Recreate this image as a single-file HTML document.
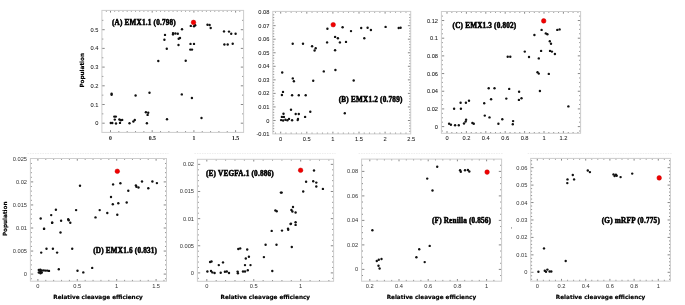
<!DOCTYPE html>
<html><head><meta charset="utf-8"><style>
html,body{margin:0;padding:0;background:#fff;width:685px;height:305px;overflow:hidden}
svg{display:block}
.tl{font-family:'Liberation Sans',sans-serif;font-size:5.7px;fill:#1a1a1a;stroke:#1a1a1a;stroke-width:0.05px}
.ti{font-family:'Liberation Serif',serif;font-weight:bold;font-size:7.2px;fill:#000;stroke:#000;stroke-width:0.5px}
.al{font-family:'DejaVu Sans',sans-serif;font-weight:bold;font-size:5.7px;fill:#000;stroke:#000;stroke-width:0.18px}
circle{fill:#111}
.lt{fill:#333;stroke:none}
circle.r{fill:#f20000;stroke:#c40000;stroke-width:0.5px}
</style></head><body>
<svg width="685" height="305" viewBox="0 0 685 305">
<g><path d="M110.5 132.4v-2.2M118.84 132.4v-1.3M127.18 132.4v-1.3M135.52 132.4v-1.3M143.86 132.4v-1.3M152.2 132.4v-2.2M160.54 132.4v-1.3M168.88 132.4v-1.3M177.22 132.4v-1.3M185.56 132.4v-1.3M193.9 132.4v-2.2M202.24 132.4v-1.3M210.58 132.4v-1.3M218.92 132.4v-1.3M227.26 132.4v-1.3M235.6 132.4v-2.2M106.33 10.4v1.3M110.5 10.4v2.2M114.67 10.4v1.3M118.84 10.4v1.3M123.01 10.4v1.3M127.18 10.4v1.3M131.35 10.4v1.3M135.52 10.4v1.3M139.69 10.4v1.3M143.86 10.4v1.3M148.03 10.4v1.3M152.2 10.4v2.2M156.37 10.4v1.3M160.54 10.4v1.3M164.71 10.4v1.3M168.88 10.4v1.3M173.05 10.4v1.3M177.22 10.4v1.3M181.39 10.4v1.3M185.56 10.4v1.3M189.73 10.4v1.3M193.9 10.4v2.2M198.07 10.4v1.3M202.24 10.4v1.3M206.41 10.4v1.3M210.58 10.4v1.3M214.75 10.4v1.3M218.92 10.4v1.3M223.09 10.4v1.3M227.26 10.4v1.3M231.43 10.4v1.3M235.6 10.4v2.2M239.77 10.4v1.3M101.9 123.2h2.8M243.6 123.2h-2.8M101.9 113.85h1.4M243.6 113.85h-1.4M101.9 104.5h2.8M243.6 104.5h-2.8M101.9 95.15h1.4M243.6 95.15h-1.4M101.9 85.8h2.8M243.6 85.8h-2.8M101.9 76.45h1.4M243.6 76.45h-1.4M101.9 67.1h2.8M243.6 67.1h-2.8M101.9 57.75h1.4M243.6 57.75h-1.4M101.9 48.4h2.8M243.6 48.4h-2.8M101.9 39.05h1.4M243.6 39.05h-1.4M101.9 29.7h2.8M243.6 29.7h-2.8M101.9 20.35h1.4M243.6 20.35h-1.4" stroke="#555" stroke-width="0.7" fill="none"/>
<rect x="101.9" y="10.4" width="141.7" height="122" fill="none" stroke="#cdcdcd" stroke-width="1"/>
<text x="110.5" y="139.8" text-anchor="middle" class="tl" style="font-family:'Liberation Serif',serif;font-weight:bold">0</text>
<text x="152.2" y="139.8" text-anchor="middle" class="tl" style="font-family:'Liberation Serif',serif;font-weight:bold">0.5</text>
<text x="193.9" y="139.8" text-anchor="middle" class="tl" style="font-family:'Liberation Serif',serif;font-weight:bold">1</text>
<text x="235.6" y="139.8" text-anchor="middle" class="tl" style="font-family:'Liberation Serif',serif;font-weight:bold">1.5</text>
<text x="98.5" y="125.2" text-anchor="end" class="tl">0</text>
<text x="98.5" y="106.5" text-anchor="end" class="tl">0.1</text>
<text x="98.5" y="87.8" text-anchor="end" class="tl">0.2</text>
<text x="98.5" y="69.1" text-anchor="end" class="tl">0.3</text>
<text x="98.5" y="50.4" text-anchor="end" class="tl">0.4</text>
<text x="98.5" y="31.7" text-anchor="end" class="tl">0.5</text>
<text x="112" y="24.5" class="ti" textLength="63.7" lengthAdjust="spacing">(A) EMX1.1 (0.798)</text>
<text transform="translate(83.7 70.3) rotate(-90)" text-anchor="middle" class="al">Population</text>
<circle cx="190.8" cy="25.9" r="1.2"/>
<circle cx="194" cy="26.3" r="1.2"/>
<circle cx="195.2" cy="25.2" r="1.2"/>
<circle cx="207.5" cy="24.8" r="1.2"/>
<circle cx="209.6" cy="25" r="1.2"/>
<circle cx="210.7" cy="28" r="1.2"/>
<circle cx="182" cy="29.2" r="1.2"/>
<circle cx="165" cy="34.9" r="1.2"/>
<circle cx="164.4" cy="39.7" r="1.2"/>
<circle cx="173" cy="33.1" r="1.2"/>
<circle cx="173" cy="34.4" r="1.2"/>
<circle cx="175.4" cy="33.5" r="1.2"/>
<circle cx="177.8" cy="33.8" r="1.2"/>
<circle cx="180" cy="38" r="1.2"/>
<circle cx="178.7" cy="38.8" r="1.2"/>
<circle cx="178.5" cy="45" r="1.2"/>
<circle cx="166.8" cy="48.7" r="1.2"/>
<circle cx="190.5" cy="43.9" r="1.2"/>
<circle cx="194" cy="43.9" r="1.2"/>
<circle cx="190.3" cy="49.6" r="1.2"/>
<circle cx="192" cy="49.6" r="1.2"/>
<circle cx="158.3" cy="61" r="1.2"/>
<circle cx="185.7" cy="60.8" r="1.2"/>
<circle cx="224" cy="31.4" r="1.2"/>
<circle cx="229" cy="31.6" r="1.2"/>
<circle cx="231.2" cy="33.8" r="1.2"/>
<circle cx="235.6" cy="33.8" r="1.2"/>
<circle cx="224.4" cy="44.5" r="1.2"/>
<circle cx="227.7" cy="44.5" r="1.2"/>
<circle cx="232.7" cy="43.7" r="1.2"/>
<circle cx="111.6" cy="93.8" r="1.2"/>
<circle cx="111.6" cy="94.7" r="1.2"/>
<circle cx="135.6" cy="95.5" r="1.2"/>
<circle cx="149.5" cy="92.7" r="1.2"/>
<circle cx="181.8" cy="94.4" r="1.2"/>
<circle cx="191.9" cy="98" r="1.2"/>
<circle cx="201.5" cy="118" r="1.2"/>
<circle cx="167" cy="119.2" r="1.2"/>
<circle cx="110.8" cy="123" r="1.2"/>
<circle cx="112.3" cy="123" r="1.2"/>
<circle cx="116" cy="123.5" r="1.2"/>
<circle cx="114.3" cy="116.6" r="1.2"/>
<circle cx="115.8" cy="116.6" r="1.2"/>
<circle cx="114.8" cy="119.6" r="1.2"/>
<circle cx="119.4" cy="119.5" r="1.2"/>
<circle cx="120.8" cy="120.3" r="1.2"/>
<circle cx="122.2" cy="119.9" r="1.2"/>
<circle cx="120" cy="122.9" r="1.2"/>
<circle cx="129.5" cy="123.2" r="1.2"/>
<circle cx="133.4" cy="121.5" r="1.2"/>
<circle cx="134.8" cy="120" r="1.2"/>
<circle cx="145.9" cy="112.2" r="1.2"/>
<circle cx="148.2" cy="112.7" r="1.2"/>
<circle cx="147.6" cy="114.9" r="1.2"/>
<circle cx="146.9" cy="123.2" r="1.2"/>
<circle cx="193.5" cy="22.4" r="2.3" class="r"/></g>
<g><path d="M275.48 133.9v-1.3M280.7 133.9v-2.2M285.92 133.9v-1.3M291.14 133.9v-1.3M296.36 133.9v-1.3M301.58 133.9v-1.3M306.8 133.9v-2.2M312.02 133.9v-1.3M317.24 133.9v-1.3M322.46 133.9v-1.3M327.68 133.9v-1.3M332.9 133.9v-2.2M338.12 133.9v-1.3M343.34 133.9v-1.3M348.56 133.9v-1.3M353.78 133.9v-1.3M359 133.9v-2.2M364.22 133.9v-1.3M369.44 133.9v-1.3M374.66 133.9v-1.3M379.88 133.9v-1.3M385.1 133.9v-2.2M390.32 133.9v-1.3M395.54 133.9v-1.3M400.76 133.9v-1.3M405.98 133.9v-1.3M275.48 11.4v1.3M280.7 11.4v2.2M285.92 11.4v1.3M291.14 11.4v1.3M296.36 11.4v1.3M301.58 11.4v1.3M306.8 11.4v2.2M312.02 11.4v1.3M317.24 11.4v1.3M322.46 11.4v1.3M327.68 11.4v1.3M332.9 11.4v2.2M338.12 11.4v1.3M343.34 11.4v1.3M348.56 11.4v1.3M353.78 11.4v1.3M359 11.4v2.2M364.22 11.4v1.3M369.44 11.4v1.3M374.66 11.4v1.3M379.88 11.4v1.3M385.1 11.4v2.2M390.32 11.4v1.3M395.54 11.4v1.3M400.76 11.4v1.3M405.98 11.4v1.3M272.8 131.34h1.4M410.7 131.34h-1.4M272.8 128.63h1.4M410.7 128.63h-1.4M272.8 125.92h1.4M410.7 125.92h-1.4M272.8 123.21h1.4M410.7 123.21h-1.4M272.8 120.5h2.8M410.7 120.5h-2.8M272.8 117.79h1.4M410.7 117.79h-1.4M272.8 115.08h1.4M410.7 115.08h-1.4M272.8 112.37h1.4M410.7 112.37h-1.4M272.8 109.66h1.4M410.7 109.66h-1.4M272.8 106.95h2.8M410.7 106.95h-2.8M272.8 104.24h1.4M410.7 104.24h-1.4M272.8 101.53h1.4M410.7 101.53h-1.4M272.8 98.82h1.4M410.7 98.82h-1.4M272.8 96.11h1.4M410.7 96.11h-1.4M272.8 93.4h2.8M410.7 93.4h-2.8M272.8 90.69h1.4M410.7 90.69h-1.4M272.8 87.98h1.4M410.7 87.98h-1.4M272.8 85.27h1.4M410.7 85.27h-1.4M272.8 82.56h1.4M410.7 82.56h-1.4M272.8 79.85h2.8M410.7 79.85h-2.8M272.8 77.14h1.4M410.7 77.14h-1.4M272.8 74.43h1.4M410.7 74.43h-1.4M272.8 71.72h1.4M410.7 71.72h-1.4M272.8 69.01h1.4M410.7 69.01h-1.4M272.8 66.3h2.8M410.7 66.3h-2.8M272.8 63.59h1.4M410.7 63.59h-1.4M272.8 60.88h1.4M410.7 60.88h-1.4M272.8 58.17h1.4M410.7 58.17h-1.4M272.8 55.46h1.4M410.7 55.46h-1.4M272.8 52.75h2.8M410.7 52.75h-2.8M272.8 50.04h1.4M410.7 50.04h-1.4M272.8 47.33h1.4M410.7 47.33h-1.4M272.8 44.62h1.4M410.7 44.62h-1.4M272.8 41.91h1.4M410.7 41.91h-1.4M272.8 39.2h2.8M410.7 39.2h-2.8M272.8 36.49h1.4M410.7 36.49h-1.4M272.8 33.78h1.4M410.7 33.78h-1.4M272.8 31.07h1.4M410.7 31.07h-1.4M272.8 28.36h1.4M410.7 28.36h-1.4M272.8 25.65h2.8M410.7 25.65h-2.8M272.8 22.94h1.4M410.7 22.94h-1.4M272.8 20.23h1.4M410.7 20.23h-1.4M272.8 17.52h1.4M410.7 17.52h-1.4M272.8 14.81h1.4M410.7 14.81h-1.4" stroke="#555" stroke-width="0.7" fill="none"/>
<rect x="272.8" y="11.4" width="137.9" height="122.5" fill="none" stroke="#cdcdcd" stroke-width="1"/>
<text x="280.7" y="140.7" text-anchor="middle" class="tl" style="font-family:'Liberation Sans',sans-serif">0</text>
<text x="306.8" y="140.7" text-anchor="middle" class="tl" style="font-family:'Liberation Sans',sans-serif">0.5</text>
<text x="332.9" y="140.7" text-anchor="middle" class="tl" style="font-family:'Liberation Sans',sans-serif">1</text>
<text x="359" y="140.7" text-anchor="middle" class="tl" style="font-family:'Liberation Sans',sans-serif">1.5</text>
<text x="385.1" y="140.7" text-anchor="middle" class="tl" style="font-family:'Liberation Sans',sans-serif">2</text>
<text x="411.2" y="140.7" text-anchor="middle" class="tl" style="font-family:'Liberation Sans',sans-serif">2.5</text>
<text x="269.4" y="136.05" text-anchor="end" class="tl">-0.01</text>
<text x="269.4" y="122.5" text-anchor="end" class="tl">0</text>
<text x="269.4" y="108.95" text-anchor="end" class="tl">0.01</text>
<text x="269.4" y="95.4" text-anchor="end" class="tl">0.02</text>
<text x="269.4" y="81.85" text-anchor="end" class="tl">0.03</text>
<text x="269.4" y="68.3" text-anchor="end" class="tl">0.04</text>
<text x="269.4" y="54.75" text-anchor="end" class="tl">0.05</text>
<text x="269.4" y="41.2" text-anchor="end" class="tl">0.06</text>
<text x="269.4" y="27.65" text-anchor="end" class="tl">0.07</text>
<text x="269.4" y="14.1" text-anchor="end" class="tl">0.08</text>
<text x="338.7" y="102.1" class="ti" textLength="63.7" lengthAdjust="spacing">(B) EMX1.2 (0.789)</text>
<circle cx="327.4" cy="28.8" r="1.2"/>
<circle cx="342.6" cy="27.2" r="1.2"/>
<circle cx="351" cy="31.1" r="1.2"/>
<circle cx="361.2" cy="28" r="1.2"/>
<circle cx="367.6" cy="27.7" r="1.2"/>
<circle cx="370.9" cy="30" r="1.2"/>
<circle cx="385.6" cy="26.9" r="1.2"/>
<circle cx="398.7" cy="28" r="1.2"/>
<circle cx="400.6" cy="27.7" r="1.2"/>
<circle cx="292.7" cy="43.8" r="1.2"/>
<circle cx="303" cy="43.8" r="1.2"/>
<circle cx="312.1" cy="46.3" r="1.2"/>
<circle cx="315.7" cy="48.3" r="1.2"/>
<circle cx="314.6" cy="50.5" r="1.2"/>
<circle cx="327.1" cy="42.4" r="1.2"/>
<circle cx="335.1" cy="36.9" r="1.2"/>
<circle cx="337.9" cy="38.3" r="1.2"/>
<circle cx="339.9" cy="42.4" r="1.2"/>
<circle cx="346" cy="41.9" r="1.2"/>
<circle cx="335.1" cy="50.2" r="1.2"/>
<circle cx="364.3" cy="38.3" r="1.2"/>
<circle cx="282.2" cy="72.5" r="1.2"/>
<circle cx="323.8" cy="71.4" r="1.2"/>
<circle cx="335.4" cy="70" r="1.2"/>
<circle cx="292.8" cy="78.4" r="1.2"/>
<circle cx="293.9" cy="81.3" r="1.2"/>
<circle cx="313.2" cy="80.8" r="1.2"/>
<circle cx="353.7" cy="80.5" r="1.2"/>
<circle cx="283" cy="91.9" r="1.2"/>
<circle cx="281.9" cy="95" r="1.2"/>
<circle cx="292.1" cy="95.2" r="1.2"/>
<circle cx="298.8" cy="95.2" r="1.2"/>
<circle cx="305.7" cy="95.2" r="1.2"/>
<circle cx="291" cy="109.8" r="1.2"/>
<circle cx="310.3" cy="111.7" r="1.2"/>
<circle cx="295.7" cy="114" r="1.2"/>
<circle cx="298.8" cy="114" r="1.2"/>
<circle cx="305.1" cy="116.9" r="1.2"/>
<circle cx="344.8" cy="113.3" r="1.2"/>
<circle cx="283.5" cy="113.8" r="1.2"/>
<circle cx="281.9" cy="116.9" r="1.2"/>
<circle cx="283.9" cy="116.9" r="1.2"/>
<circle cx="281.1" cy="120.1" r="1.2"/>
<circle cx="283.1" cy="120.5" r="1.2"/>
<circle cx="285.4" cy="119.7" r="1.2"/>
<circle cx="287.4" cy="120.3" r="1.2"/>
<circle cx="289" cy="118.9" r="1.2"/>
<circle cx="292.1" cy="120.3" r="1.2"/>
<circle cx="298" cy="118.9" r="1.2"/>
<circle cx="297.7" cy="120.1" r="1.2"/>
<circle cx="333.2" cy="24.7" r="2.3" class="r"/></g>
<g><path d="M447 133.3v-2.2M451.85 133.3v-1.3M456.7 133.3v-1.3M461.55 133.3v-1.3M466.4 133.3v-2.2M471.25 133.3v-1.3M476.1 133.3v-1.3M480.95 133.3v-1.3M485.8 133.3v-2.2M490.65 133.3v-1.3M495.5 133.3v-1.3M500.35 133.3v-1.3M505.2 133.3v-2.2M510.05 133.3v-1.3M514.9 133.3v-1.3M519.75 133.3v-1.3M524.6 133.3v-2.2M529.45 133.3v-1.3M534.3 133.3v-1.3M539.15 133.3v-1.3M544 133.3v-2.2M548.85 133.3v-1.3M553.7 133.3v-1.3M558.55 133.3v-1.3M563.4 133.3v-2.2M568.25 133.3v-1.3M573.1 133.3v-1.3M577.95 133.3v-1.3M447 11.5v2.2M451.85 11.5v1.3M456.7 11.5v1.3M461.55 11.5v1.3M466.4 11.5v2.2M471.25 11.5v1.3M476.1 11.5v1.3M480.95 11.5v1.3M485.8 11.5v2.2M490.65 11.5v1.3M495.5 11.5v1.3M500.35 11.5v1.3M505.2 11.5v2.2M510.05 11.5v1.3M514.9 11.5v1.3M519.75 11.5v1.3M524.6 11.5v2.2M529.45 11.5v1.3M534.3 11.5v1.3M539.15 11.5v1.3M544 11.5v2.2M548.85 11.5v1.3M553.7 11.5v1.3M558.55 11.5v1.3M563.4 11.5v2.2M568.25 11.5v1.3M573.1 11.5v1.3M577.95 11.5v1.3M441.4 131.02h1.4M580.6 131.02h-1.4M441.4 126.6h2.8M580.6 126.6h-2.8M441.4 122.18h1.4M580.6 122.18h-1.4M441.4 117.76h1.4M580.6 117.76h-1.4M441.4 113.34h1.4M580.6 113.34h-1.4M441.4 108.92h2.8M580.6 108.92h-2.8M441.4 104.5h1.4M580.6 104.5h-1.4M441.4 100.08h1.4M580.6 100.08h-1.4M441.4 95.66h1.4M580.6 95.66h-1.4M441.4 91.24h2.8M580.6 91.24h-2.8M441.4 86.82h1.4M580.6 86.82h-1.4M441.4 82.4h1.4M580.6 82.4h-1.4M441.4 77.98h1.4M580.6 77.98h-1.4M441.4 73.56h2.8M580.6 73.56h-2.8M441.4 69.14h1.4M580.6 69.14h-1.4M441.4 64.72h1.4M580.6 64.72h-1.4M441.4 60.3h1.4M580.6 60.3h-1.4M441.4 55.88h2.8M580.6 55.88h-2.8M441.4 51.46h1.4M580.6 51.46h-1.4M441.4 47.04h1.4M580.6 47.04h-1.4M441.4 42.62h1.4M580.6 42.62h-1.4M441.4 38.2h2.8M580.6 38.2h-2.8M441.4 33.78h1.4M580.6 33.78h-1.4M441.4 29.36h1.4M580.6 29.36h-1.4M441.4 24.94h1.4M580.6 24.94h-1.4M441.4 20.52h2.8M580.6 20.52h-2.8M441.4 16.1h1.4M580.6 16.1h-1.4" stroke="#555" stroke-width="0.7" fill="none"/>
<rect x="441.4" y="11.5" width="139.2" height="121.8" fill="none" stroke="#cdcdcd" stroke-width="1"/>
<text x="447" y="140" text-anchor="middle" class="tl" style="font-family:'Liberation Sans',sans-serif">0</text>
<text x="466.4" y="140" text-anchor="middle" class="tl" style="font-family:'Liberation Sans',sans-serif">0.2</text>
<text x="485.8" y="140" text-anchor="middle" class="tl" style="font-family:'Liberation Sans',sans-serif">0.4</text>
<text x="505.2" y="140" text-anchor="middle" class="tl" style="font-family:'Liberation Sans',sans-serif">0.6</text>
<text x="524.6" y="140" text-anchor="middle" class="tl" style="font-family:'Liberation Sans',sans-serif">0.8</text>
<text x="544" y="140" text-anchor="middle" class="tl" style="font-family:'Liberation Sans',sans-serif">1</text>
<text x="563.4" y="140" text-anchor="middle" class="tl" style="font-family:'Liberation Sans',sans-serif">1.2</text>
<text x="438" y="128.6" text-anchor="end" class="tl">0</text>
<text x="438" y="110.92" text-anchor="end" class="tl">0.02</text>
<text x="438" y="93.24" text-anchor="end" class="tl">0.04</text>
<text x="438" y="75.56" text-anchor="end" class="tl">0.06</text>
<text x="438" y="57.88" text-anchor="end" class="tl">0.08</text>
<text x="438" y="40.2" text-anchor="end" class="tl">0.1</text>
<text x="438" y="22.52" text-anchor="end" class="tl">0.12</text>
<text x="452.6" y="27.6" class="ti" textLength="63.6" lengthAdjust="spacing">(C) EMX1.3 (0.802)</text>
<circle cx="541.6" cy="29.9" r="1.2"/>
<circle cx="534.4" cy="35" r="1.2"/>
<circle cx="545.8" cy="33.4" r="1.2"/>
<circle cx="547.4" cy="34.3" r="1.2"/>
<circle cx="557.3" cy="29.9" r="1.2"/>
<circle cx="559.6" cy="29.4" r="1.2"/>
<circle cx="549.8" cy="41.3" r="1.2"/>
<circle cx="551" cy="43.7" r="1.2"/>
<circle cx="541.1" cy="50.9" r="1.2"/>
<circle cx="550" cy="50.9" r="1.2"/>
<circle cx="551.9" cy="51.6" r="1.2"/>
<circle cx="554.9" cy="54" r="1.2"/>
<circle cx="524.8" cy="51.6" r="1.2"/>
<circle cx="529" cy="57" r="1.2"/>
<circle cx="538.8" cy="58.4" r="1.2"/>
<circle cx="507.7" cy="56.8" r="1.2"/>
<circle cx="510.3" cy="56.8" r="1.2"/>
<circle cx="537.5" cy="72.3" r="1.2"/>
<circle cx="538.8" cy="73.6" r="1.2"/>
<circle cx="548.8" cy="73.9" r="1.2"/>
<circle cx="539.9" cy="91" r="1.2"/>
<circle cx="488.7" cy="88.3" r="1.2"/>
<circle cx="494.5" cy="88.3" r="1.2"/>
<circle cx="509.2" cy="88.9" r="1.2"/>
<circle cx="519.1" cy="91.7" r="1.2"/>
<circle cx="491.1" cy="99.3" r="1.2"/>
<circle cx="506.3" cy="98.6" r="1.2"/>
<circle cx="518.9" cy="99.9" r="1.2"/>
<circle cx="521.5" cy="98.3" r="1.2"/>
<circle cx="484.2" cy="103.3" r="1.2"/>
<circle cx="460.6" cy="102.8" r="1.2"/>
<circle cx="465.9" cy="102.8" r="1.2"/>
<circle cx="469" cy="100.7" r="1.2"/>
<circle cx="454.1" cy="108.8" r="1.2"/>
<circle cx="460.9" cy="108.8" r="1.2"/>
<circle cx="568.4" cy="106.4" r="1.2"/>
<circle cx="484.8" cy="115.6" r="1.2"/>
<circle cx="489.5" cy="117.4" r="1.2"/>
<circle cx="502.3" cy="119.3" r="1.2"/>
<circle cx="498.4" cy="123.7" r="1.2"/>
<circle cx="513.1" cy="121.1" r="1.2"/>
<circle cx="512.8" cy="124.3" r="1.2"/>
<circle cx="466.1" cy="119.8" r="1.2"/>
<circle cx="465.6" cy="121.6" r="1.2"/>
<circle cx="464" cy="123.5" r="1.2"/>
<circle cx="472.4" cy="123" r="1.2"/>
<circle cx="473.8" cy="123.7" r="1.2"/>
<circle cx="449.1" cy="123.7" r="1.2"/>
<circle cx="450.9" cy="124.8" r="1.2"/>
<circle cx="455.1" cy="125.3" r="1.2"/>
<circle cx="458.8" cy="125.3" r="1.2"/>
<circle cx="543.7" cy="20.9" r="2.3" class="r"/></g>
<g><path d="M27.4 153.5H168.5" stroke="#eeeeee" stroke-width="1" stroke-dasharray="1.5 1"/>
<path d="M37.9 281.2v-2.2M45.78 281.2v-1.3M53.66 281.2v-1.3M61.54 281.2v-1.3M69.42 281.2v-1.3M77.3 281.2v-2.2M85.18 281.2v-1.3M93.06 281.2v-1.3M100.94 281.2v-1.3M108.82 281.2v-1.3M116.7 281.2v-2.2M124.58 281.2v-1.3M132.46 281.2v-1.3M140.34 281.2v-1.3M148.22 281.2v-1.3M156.1 281.2v-2.2M163.98 281.2v-1.3M37.9 158.5v2.2M45.78 158.5v1.3M53.66 158.5v1.3M61.54 158.5v1.3M69.42 158.5v1.3M77.3 158.5v2.2M85.18 158.5v1.3M93.06 158.5v1.3M100.94 158.5v1.3M108.82 158.5v1.3M116.7 158.5v2.2M124.58 158.5v1.3M132.46 158.5v1.3M140.34 158.5v1.3M148.22 158.5v1.3M156.1 158.5v2.2M163.98 158.5v1.3M30.4 278.71h1.4M166.5 278.71h-1.4M30.4 274.1h2.8M166.5 274.1h-2.8M30.4 269.49h1.4M166.5 269.49h-1.4M30.4 264.88h1.4M166.5 264.88h-1.4M30.4 260.27h1.4M166.5 260.27h-1.4M30.4 255.66h1.4M166.5 255.66h-1.4M30.4 251.05h2.8M166.5 251.05h-2.8M30.4 246.44h1.4M166.5 246.44h-1.4M30.4 241.83h1.4M166.5 241.83h-1.4M30.4 237.22h1.4M166.5 237.22h-1.4M30.4 232.61h1.4M166.5 232.61h-1.4M30.4 228h2.8M166.5 228h-2.8M30.4 223.39h1.4M166.5 223.39h-1.4M30.4 218.78h1.4M166.5 218.78h-1.4M30.4 214.17h1.4M166.5 214.17h-1.4M30.4 209.56h1.4M166.5 209.56h-1.4M30.4 204.95h2.8M166.5 204.95h-2.8M30.4 200.34h1.4M166.5 200.34h-1.4M30.4 195.73h1.4M166.5 195.73h-1.4M30.4 191.12h1.4M166.5 191.12h-1.4M30.4 186.51h1.4M166.5 186.51h-1.4M30.4 181.9h2.8M166.5 181.9h-2.8M30.4 177.29h1.4M166.5 177.29h-1.4M30.4 172.68h1.4M166.5 172.68h-1.4M30.4 168.07h1.4M166.5 168.07h-1.4M30.4 163.46h1.4M166.5 163.46h-1.4" stroke="#555" stroke-width="0.7" fill="none"/>
<rect x="30.4" y="158.5" width="136.1" height="122.7" fill="none" stroke="#cdcdcd" stroke-width="1"/>
<text x="37.9" y="288.1" text-anchor="middle" class="tl lt" style="font-family:'Liberation Sans',sans-serif">0</text>
<text x="77.3" y="288.1" text-anchor="middle" class="tl lt" style="font-family:'Liberation Sans',sans-serif">0.5</text>
<text x="116.7" y="288.1" text-anchor="middle" class="tl lt" style="font-family:'Liberation Sans',sans-serif">1</text>
<text x="156.1" y="288.1" text-anchor="middle" class="tl lt" style="font-family:'Liberation Sans',sans-serif">1.5</text>
<text x="27" y="276.1" text-anchor="end" class="tl lt">0</text>
<text x="27" y="253.05" text-anchor="end" class="tl lt">0.005</text>
<text x="27" y="230" text-anchor="end" class="tl lt">0.01</text>
<text x="27" y="206.95" text-anchor="end" class="tl lt">0.015</text>
<text x="27" y="183.9" text-anchor="end" class="tl lt">0.02</text>
<text x="27" y="160.85" text-anchor="end" class="tl lt">0.025</text>
<text x="93.2" y="252.7" class="ti" textLength="63.8" lengthAdjust="spacing">(D) EMX1.6 (0.831)</text>
<text transform="translate(6.5 218.8) rotate(-90)" text-anchor="middle" class="al">Population</text>
<text x="98" y="298.8" text-anchor="middle" class="al" textLength="89.5" lengthAdjust="spacingAndGlyphs">Relative cleavage efficiency</text>
<circle cx="80" cy="185.7" r="1.2"/>
<circle cx="113.1" cy="184.4" r="1.2"/>
<circle cx="120.4" cy="183.3" r="1.2"/>
<circle cx="128.3" cy="190.7" r="1.2"/>
<circle cx="135.9" cy="185.4" r="1.2"/>
<circle cx="136.4" cy="186.7" r="1.2"/>
<circle cx="138.5" cy="187.5" r="1.2"/>
<circle cx="142" cy="181.5" r="1.2"/>
<circle cx="148.3" cy="188.3" r="1.2"/>
<circle cx="152.4" cy="181.5" r="1.2"/>
<circle cx="156.9" cy="183.1" r="1.2"/>
<circle cx="111" cy="197" r="1.2"/>
<circle cx="112.8" cy="204.3" r="1.2"/>
<circle cx="118.3" cy="203.3" r="1.2"/>
<circle cx="126.7" cy="202.5" r="1.2"/>
<circle cx="117.3" cy="214.8" r="1.2"/>
<circle cx="107.3" cy="213" r="1.2"/>
<circle cx="99.7" cy="210.1" r="1.2"/>
<circle cx="95.5" cy="217.4" r="1.2"/>
<circle cx="76.1" cy="210.1" r="1.2"/>
<circle cx="55.9" cy="209.8" r="1.2"/>
<circle cx="51.2" cy="215.1" r="1.2"/>
<circle cx="52.2" cy="222.7" r="1.2"/>
<circle cx="61.1" cy="220.8" r="1.2"/>
<circle cx="68.2" cy="219.3" r="1.2"/>
<circle cx="68.7" cy="220.3" r="1.2"/>
<circle cx="70.3" cy="222.7" r="1.2"/>
<circle cx="40.7" cy="218.5" r="1.2"/>
<circle cx="44.1" cy="228.7" r="1.2"/>
<circle cx="44" cy="228.9" r="1.2"/>
<circle cx="60.5" cy="232.5" r="1.2"/>
<circle cx="52.1" cy="222.8" r="1.2"/>
<circle cx="41.2" cy="252.6" r="1.2"/>
<circle cx="46.5" cy="248.7" r="1.2"/>
<circle cx="52.9" cy="248.7" r="1.2"/>
<circle cx="57.1" cy="252.6" r="1.2"/>
<circle cx="72.2" cy="248.7" r="1.2"/>
<circle cx="58.8" cy="269.3" r="1.2"/>
<circle cx="77.5" cy="270.7" r="1.2"/>
<circle cx="83.3" cy="272.4" r="1.2"/>
<circle cx="92.2" cy="267.9" r="1.2"/>
<circle cx="38.8" cy="270" r="1.2"/>
<circle cx="38.8" cy="272.5" r="1.2"/>
<circle cx="40.3" cy="269.8" r="1.2"/>
<circle cx="40.3" cy="271.5" r="1.2"/>
<circle cx="40.5" cy="273.2" r="1.2"/>
<circle cx="41.8" cy="270.5" r="1.2"/>
<circle cx="41.8" cy="272.5" r="1.2"/>
<circle cx="43.8" cy="270.4" r="1.2"/>
<circle cx="45.6" cy="270.6" r="1.2"/>
<circle cx="47.3" cy="270.6" r="1.2"/>
<circle cx="49" cy="270.9" r="1.2"/>
<circle cx="117.3" cy="171.3" r="2.3" class="r"/></g>
<g><path d="M194.4 153.5H335.6" stroke="#eeeeee" stroke-width="1" stroke-dasharray="1.5 1"/>
<path d="M206.8 281.3v-2.2M216.19 281.3v-1.3M225.58 281.3v-1.3M234.97 281.3v-1.3M244.36 281.3v-1.3M253.75 281.3v-2.2M263.14 281.3v-1.3M272.53 281.3v-1.3M281.92 281.3v-1.3M291.31 281.3v-1.3M300.7 281.3v-2.2M310.09 281.3v-1.3M319.48 281.3v-1.3M328.87 281.3v-1.3M206.8 159.3v2.2M216.19 159.3v1.3M225.58 159.3v1.3M234.97 159.3v1.3M244.36 159.3v1.3M253.75 159.3v2.2M263.14 159.3v1.3M272.53 159.3v1.3M281.92 159.3v1.3M291.31 159.3v1.3M300.7 159.3v2.2M310.09 159.3v1.3M319.48 159.3v1.3M328.87 159.3v1.3M197.4 278.33h1.4M333.6 278.33h-1.4M197.4 272.9h2.8M333.6 272.9h-2.8M197.4 267.47h1.4M333.6 267.47h-1.4M197.4 262.05h1.4M333.6 262.05h-1.4M197.4 256.62h1.4M333.6 256.62h-1.4M197.4 251.19h1.4M333.6 251.19h-1.4M197.4 245.76h2.8M333.6 245.76h-2.8M197.4 240.34h1.4M333.6 240.34h-1.4M197.4 234.91h1.4M333.6 234.91h-1.4M197.4 229.48h1.4M333.6 229.48h-1.4M197.4 224.06h1.4M333.6 224.06h-1.4M197.4 218.63h2.8M333.6 218.63h-2.8M197.4 213.2h1.4M333.6 213.2h-1.4M197.4 207.78h1.4M333.6 207.78h-1.4M197.4 202.35h1.4M333.6 202.35h-1.4M197.4 196.92h1.4M333.6 196.92h-1.4M197.4 191.49h2.8M333.6 191.49h-2.8M197.4 186.07h1.4M333.6 186.07h-1.4M197.4 180.64h1.4M333.6 180.64h-1.4M197.4 175.21h1.4M333.6 175.21h-1.4M197.4 169.79h1.4M333.6 169.79h-1.4M197.4 164.36h2.8M333.6 164.36h-2.8" stroke="#555" stroke-width="0.7" fill="none"/>
<rect x="197.4" y="159.3" width="136.2" height="122" fill="none" stroke="#cdcdcd" stroke-width="1"/>
<text x="206.8" y="288.1" text-anchor="middle" class="tl lt" style="font-family:'Liberation Sans',sans-serif">0</text>
<text x="253.75" y="288.1" text-anchor="middle" class="tl lt" style="font-family:'Liberation Sans',sans-serif">0.5</text>
<text x="300.7" y="288.1" text-anchor="middle" class="tl lt" style="font-family:'Liberation Sans',sans-serif">1</text>
<text x="194" y="274.9" text-anchor="end" class="tl lt">0</text>
<text x="194" y="247.76" text-anchor="end" class="tl lt">0.005</text>
<text x="194" y="220.63" text-anchor="end" class="tl lt">0.01</text>
<text x="194" y="193.49" text-anchor="end" class="tl lt">0.015</text>
<text x="194" y="166.36" text-anchor="end" class="tl lt">0.02</text>
<text x="206" y="176.1" class="ti" textLength="67.7" lengthAdjust="spacing">(E) VEGFA.1 (0.886)</text>
<text x="265.3" y="298.8" text-anchor="middle" class="al" textLength="89.5" lengthAdjust="spacingAndGlyphs">Relative cleavage efficiency</text>
<circle cx="314" cy="170.5" r="1.2"/>
<circle cx="306.1" cy="181.8" r="1.2"/>
<circle cx="313.2" cy="181.3" r="1.2"/>
<circle cx="316.3" cy="182.6" r="1.2"/>
<circle cx="316.3" cy="186.5" r="1.2"/>
<circle cx="322.9" cy="188.9" r="1.2"/>
<circle cx="303.2" cy="191.5" r="1.2"/>
<circle cx="280.9" cy="192.6" r="1.2"/>
<circle cx="281.7" cy="192.6" r="1.2"/>
<circle cx="275.4" cy="210.4" r="1.2"/>
<circle cx="276.7" cy="211.2" r="1.2"/>
<circle cx="293" cy="207" r="1.2"/>
<circle cx="291.4" cy="209.9" r="1.2"/>
<circle cx="292.4" cy="211.5" r="1.2"/>
<circle cx="295.6" cy="212.5" r="1.2"/>
<circle cx="290.6" cy="224.1" r="1.2"/>
<circle cx="295.6" cy="222.3" r="1.2"/>
<circle cx="295.6" cy="224.9" r="1.2"/>
<circle cx="288" cy="228.8" r="1.2"/>
<circle cx="290.9" cy="223.6" r="1.2"/>
<circle cx="271.7" cy="230.9" r="1.2"/>
<circle cx="282" cy="230.6" r="1.2"/>
<circle cx="288.2" cy="229.8" r="1.2"/>
<circle cx="265.6" cy="244.8" r="1.2"/>
<circle cx="276.5" cy="244.8" r="1.2"/>
<circle cx="291.8" cy="247" r="1.2"/>
<circle cx="238.3" cy="249" r="1.2"/>
<circle cx="240.2" cy="248.4" r="1.2"/>
<circle cx="247.2" cy="249.5" r="1.2"/>
<circle cx="245.8" cy="258.5" r="1.2"/>
<circle cx="248.9" cy="256.8" r="1.2"/>
<circle cx="263.9" cy="257.1" r="1.2"/>
<circle cx="210.1" cy="262" r="1.2"/>
<circle cx="211.5" cy="261.5" r="1.2"/>
<circle cx="223" cy="262.4" r="1.2"/>
<circle cx="218.8" cy="265.1" r="1.2"/>
<circle cx="245" cy="265.1" r="1.2"/>
<circle cx="250.5" cy="265.1" r="1.2"/>
<circle cx="247.8" cy="270.2" r="1.2"/>
<circle cx="272.3" cy="271" r="1.2"/>
<circle cx="207.4" cy="271.5" r="1.2"/>
<circle cx="211" cy="271" r="1.2"/>
<circle cx="212.4" cy="272.4" r="1.2"/>
<circle cx="214.6" cy="273" r="1.2"/>
<circle cx="220.7" cy="272.7" r="1.2"/>
<circle cx="224.9" cy="271.8" r="1.2"/>
<circle cx="226.8" cy="271.5" r="1.2"/>
<circle cx="229" cy="273" r="1.2"/>
<circle cx="237.6" cy="271.6" r="1.2"/>
<circle cx="243" cy="271.5" r="1.2"/>
<circle cx="245" cy="271.5" r="1.2"/>
<circle cx="237.9" cy="273.2" r="1.2"/>
<circle cx="300.6" cy="170.3" r="2.3" class="r"/></g>
<g><path d="M358.6 153.5H503.6" stroke="#eeeeee" stroke-width="1" stroke-dasharray="1.5 1"/>
<path d="M369.8 281.2v-2.2M377.1 281.2v-1.3M384.4 281.2v-1.3M391.7 281.2v-1.3M399 281.2v-2.2M406.3 281.2v-1.3M413.6 281.2v-1.3M420.9 281.2v-1.3M428.2 281.2v-2.2M435.5 281.2v-1.3M442.8 281.2v-1.3M450.1 281.2v-1.3M457.4 281.2v-2.2M464.7 281.2v-1.3M472 281.2v-1.3M479.3 281.2v-1.3M486.6 281.2v-2.2M493.9 281.2v-1.3M369.8 159.1v2.2M377.1 159.1v1.3M384.4 159.1v1.3M391.7 159.1v1.3M399 159.1v2.2M406.3 159.1v1.3M413.6 159.1v1.3M420.9 159.1v1.3M428.2 159.1v2.2M435.5 159.1v1.3M442.8 159.1v1.3M450.1 159.1v1.3M457.4 159.1v2.2M464.7 159.1v1.3M472 159.1v1.3M479.3 159.1v1.3M486.6 159.1v2.2M493.9 159.1v1.3M361.6 275.52h1.4M501.6 275.52h-1.4M361.6 269.4h2.8M501.6 269.4h-2.8M361.6 263.27h1.4M501.6 263.27h-1.4M361.6 257.15h1.4M501.6 257.15h-1.4M361.6 251.02h1.4M501.6 251.02h-1.4M361.6 244.9h2.8M501.6 244.9h-2.8M361.6 238.77h1.4M501.6 238.77h-1.4M361.6 232.65h1.4M501.6 232.65h-1.4M361.6 226.52h1.4M501.6 226.52h-1.4M361.6 220.4h2.8M501.6 220.4h-2.8M361.6 214.27h1.4M501.6 214.27h-1.4M361.6 208.15h1.4M501.6 208.15h-1.4M361.6 202.02h1.4M501.6 202.02h-1.4M361.6 195.9h2.8M501.6 195.9h-2.8M361.6 189.77h1.4M501.6 189.77h-1.4M361.6 183.65h1.4M501.6 183.65h-1.4M361.6 177.52h1.4M501.6 177.52h-1.4M361.6 171.4h2.8M501.6 171.4h-2.8M361.6 165.27h1.4M501.6 165.27h-1.4" stroke="#555" stroke-width="0.7" fill="none"/>
<rect x="361.6" y="159.1" width="140" height="122.1" fill="none" stroke="#cdcdcd" stroke-width="1"/>
<text x="369.8" y="288.1" text-anchor="middle" class="tl lt" style="font-family:'Liberation Sans',sans-serif">0.2</text>
<text x="399" y="288.1" text-anchor="middle" class="tl lt" style="font-family:'Liberation Sans',sans-serif">0.4</text>
<text x="428.2" y="288.1" text-anchor="middle" class="tl lt" style="font-family:'Liberation Sans',sans-serif">0.6</text>
<text x="457.4" y="288.1" text-anchor="middle" class="tl lt" style="font-family:'Liberation Sans',sans-serif">0.8</text>
<text x="486.6" y="288.1" text-anchor="middle" class="tl lt" style="font-family:'Liberation Sans',sans-serif">1</text>
<text x="358.2" y="271.4" text-anchor="end" class="tl lt">0</text>
<text x="358.2" y="246.9" text-anchor="end" class="tl lt">0.02</text>
<text x="358.2" y="222.4" text-anchor="end" class="tl lt">0.04</text>
<text x="358.2" y="197.9" text-anchor="end" class="tl lt">0.06</text>
<text x="358.2" y="173.4" text-anchor="end" class="tl lt">0.08</text>
<text x="432" y="222.5" class="ti" textLength="59" lengthAdjust="spacing">(F) Renilla (0.856)</text>
<text x="431.4" y="298.8" text-anchor="middle" class="al" textLength="89.5" lengthAdjust="spacingAndGlyphs">Relative cleavage efficiency</text>
<circle cx="437.2" cy="166.8" r="1.2"/>
<circle cx="460.1" cy="170.2" r="1.2"/>
<circle cx="460.8" cy="171.8" r="1.2"/>
<circle cx="465" cy="170.2" r="1.2"/>
<circle cx="467.9" cy="170" r="1.2"/>
<circle cx="469.3" cy="171.5" r="1.2"/>
<circle cx="427.2" cy="178.6" r="1.2"/>
<circle cx="432.5" cy="190.5" r="1.2"/>
<circle cx="372.4" cy="230.3" r="1.2"/>
<circle cx="429.7" cy="245.9" r="1.2"/>
<circle cx="419.2" cy="249.3" r="1.2"/>
<circle cx="416.4" cy="257.3" r="1.2"/>
<circle cx="424.7" cy="262.1" r="1.2"/>
<circle cx="381.5" cy="259" r="1.2"/>
<circle cx="378.8" cy="259.8" r="1.2"/>
<circle cx="376.8" cy="261" r="1.2"/>
<circle cx="378.5" cy="265.7" r="1.2"/>
<circle cx="379.6" cy="268.5" r="1.2"/>
<circle cx="487.1" cy="172.1" r="2.3" class="r"/></g>
<g><path d="M527.7 153.5H672.4" stroke="#eeeeee" stroke-width="1" stroke-dasharray="1.5 1"/>
<path d="M537.3 281.1v-2.2M543.35 281.1v-1.3M549.4 281.1v-1.3M555.45 281.1v-1.3M561.5 281.1v-2.2M567.55 281.1v-1.3M573.6 281.1v-1.3M579.65 281.1v-1.3M585.7 281.1v-2.2M591.75 281.1v-1.3M597.8 281.1v-1.3M603.85 281.1v-1.3M609.9 281.1v-2.2M615.95 281.1v-1.3M622 281.1v-1.3M628.05 281.1v-1.3M634.1 281.1v-2.2M640.15 281.1v-1.3M646.2 281.1v-1.3M652.25 281.1v-1.3M658.3 281.1v-2.2M664.35 281.1v-1.3M537.3 158.4v2.2M543.35 158.4v1.3M549.4 158.4v1.3M555.45 158.4v1.3M561.5 158.4v2.2M567.55 158.4v1.3M573.6 158.4v1.3M579.65 158.4v1.3M585.7 158.4v2.2M591.75 158.4v1.3M597.8 158.4v1.3M603.85 158.4v1.3M609.9 158.4v2.2M615.95 158.4v1.3M622 158.4v1.3M628.05 158.4v1.3M634.1 158.4v2.2M640.15 158.4v1.3M646.2 158.4v1.3M652.25 158.4v1.3M658.3 158.4v2.2M664.35 158.4v1.3M530.7 279.28h1.4M670.4 279.28h-1.4M530.7 275.79h1.4M670.4 275.79h-1.4M530.7 272.3h2.8M670.4 272.3h-2.8M530.7 268.81h1.4M670.4 268.81h-1.4M530.7 265.32h1.4M670.4 265.32h-1.4M530.7 261.84h1.4M670.4 261.84h-1.4M530.7 258.35h1.4M670.4 258.35h-1.4M530.7 254.86h2.8M670.4 254.86h-2.8M530.7 251.37h1.4M670.4 251.37h-1.4M530.7 247.88h1.4M670.4 247.88h-1.4M530.7 244.4h1.4M670.4 244.4h-1.4M530.7 240.91h1.4M670.4 240.91h-1.4M530.7 237.42h2.8M670.4 237.42h-2.8M530.7 233.93h1.4M670.4 233.93h-1.4M530.7 230.44h1.4M670.4 230.44h-1.4M530.7 226.96h1.4M670.4 226.96h-1.4M530.7 223.47h1.4M670.4 223.47h-1.4M530.7 219.98h2.8M670.4 219.98h-2.8M530.7 216.49h1.4M670.4 216.49h-1.4M530.7 213h1.4M670.4 213h-1.4M530.7 209.52h1.4M670.4 209.52h-1.4M530.7 206.03h1.4M670.4 206.03h-1.4M530.7 202.54h2.8M670.4 202.54h-2.8M530.7 199.05h1.4M670.4 199.05h-1.4M530.7 195.56h1.4M670.4 195.56h-1.4M530.7 192.08h1.4M670.4 192.08h-1.4M530.7 188.59h1.4M670.4 188.59h-1.4M530.7 185.1h2.8M670.4 185.1h-2.8M530.7 181.61h1.4M670.4 181.61h-1.4M530.7 178.12h1.4M670.4 178.12h-1.4M530.7 174.64h1.4M670.4 174.64h-1.4M530.7 171.15h1.4M670.4 171.15h-1.4M530.7 167.66h2.8M670.4 167.66h-2.8M530.7 164.17h1.4M670.4 164.17h-1.4M530.7 160.68h1.4M670.4 160.68h-1.4" stroke="#555" stroke-width="0.7" fill="none"/>
<rect x="530.7" y="158.4" width="139.7" height="122.7" fill="none" stroke="#cdcdcd" stroke-width="1"/>
<text x="537.3" y="288.1" text-anchor="middle" class="tl lt" style="font-family:'Liberation Sans',sans-serif">0</text>
<text x="561.5" y="288.1" text-anchor="middle" class="tl lt" style="font-family:'Liberation Sans',sans-serif">0.2</text>
<text x="585.7" y="288.1" text-anchor="middle" class="tl lt" style="font-family:'Liberation Sans',sans-serif">0.4</text>
<text x="609.9" y="288.1" text-anchor="middle" class="tl lt" style="font-family:'Liberation Sans',sans-serif">0.6</text>
<text x="634.1" y="288.1" text-anchor="middle" class="tl lt" style="font-family:'Liberation Sans',sans-serif">0.8</text>
<text x="658.3" y="288.1" text-anchor="middle" class="tl lt" style="font-family:'Liberation Sans',sans-serif">1</text>
<text x="527.3" y="274.3" text-anchor="end" class="tl lt">0</text>
<text x="527.3" y="256.86" text-anchor="end" class="tl lt">0.01</text>
<text x="527.3" y="239.42" text-anchor="end" class="tl lt">0.02</text>
<text x="527.3" y="221.98" text-anchor="end" class="tl lt">0.03</text>
<text x="527.3" y="204.54" text-anchor="end" class="tl lt">0.04</text>
<text x="527.3" y="187.1" text-anchor="end" class="tl lt">0.05</text>
<text x="527.3" y="169.66" text-anchor="end" class="tl lt">0.06</text>
<text x="601.7" y="222.7" class="ti" textLength="58.1" lengthAdjust="spacing">(G) mRFP (0.775)</text>
<text x="600.6" y="298.5" text-anchor="middle" class="al" textLength="89.5" lengthAdjust="spacingAndGlyphs">Relative cleavage efficiency</text>
<circle cx="587.8" cy="170.5" r="1.2"/>
<circle cx="589.9" cy="172.1" r="1.2"/>
<circle cx="572.8" cy="175" r="1.2"/>
<circle cx="574.1" cy="179.4" r="1.2"/>
<circle cx="567.5" cy="179.4" r="1.2"/>
<circle cx="567.3" cy="183.1" r="1.2"/>
<circle cx="613.5" cy="174.4" r="1.2"/>
<circle cx="614.6" cy="176" r="1.2"/>
<circle cx="616.7" cy="175.7" r="1.2"/>
<circle cx="615.9" cy="174.7" r="1.2"/>
<circle cx="620.6" cy="177.1" r="1.2"/>
<circle cx="632.2" cy="173.6" r="1.2"/>
<circle cx="544" cy="248.4" r="1.2"/>
<circle cx="565.7" cy="261" r="1.2"/>
<circle cx="538.4" cy="271.8" r="1.2"/>
<circle cx="544.8" cy="270.7" r="1.2"/>
<circle cx="546" cy="271.8" r="1.2"/>
<circle cx="547.4" cy="269.6" r="1.2"/>
<circle cx="549.6" cy="271.5" r="1.2"/>
<circle cx="551.3" cy="271.5" r="1.2"/>
<circle cx="659.2" cy="177.9" r="2.3" class="r"/></g>
<rect x="511" y="227" width="0.8" height="1.8" fill="#999"/>
</svg></body></html>
